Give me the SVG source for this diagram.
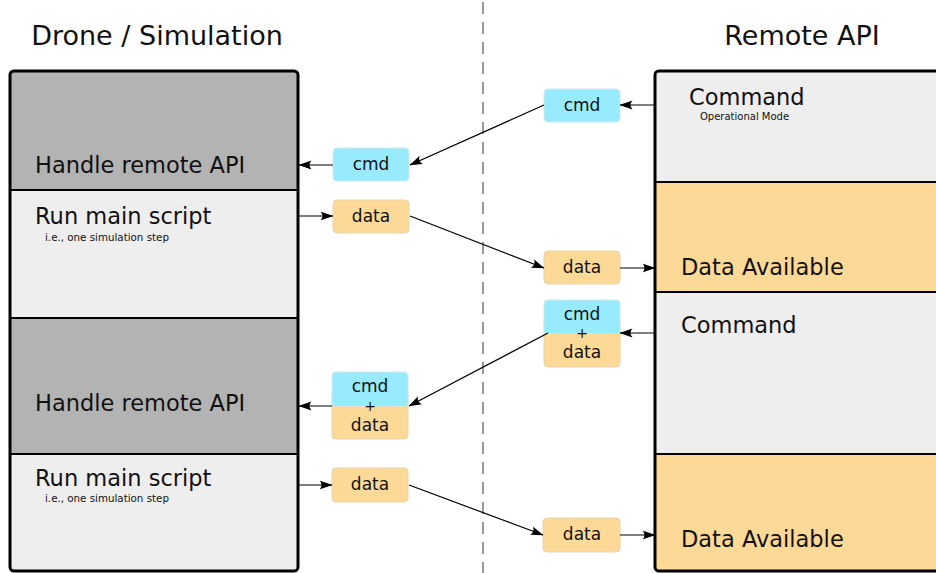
<svg xmlns="http://www.w3.org/2000/svg" width="936" height="573" viewBox="0 0 936 573">
  <defs>
    <marker id="arrow" viewBox="0 0 13 10" refX="12.5" refY="5" markerWidth="13" markerHeight="10" markerUnits="userSpaceOnUse" orient="auto">
      <path d="M0,0.5 L13,5 L0,9.5 Q4,5 0,0.5 Z" fill="#000"/>
    </marker>
  </defs>
  <style>
    text { font-family: "DejaVu Sans", "Liberation Sans", sans-serif; fill: #111; }
    .title { font-size: 27px; }
    .label { font-size: 22.5px; }
    .note { font-size: 10.3px; }
    .tag { font-size: 17px; text-anchor: middle; }
    .plus { font-size: 14px; text-anchor: middle; }
    .dark { fill: #b3b3b3; }
    .light { fill: #eeeeee; }
    .avail { fill: #fdd997; }
    .divider { stroke: #000; stroke-width: 2; }
    .frame { fill: none; stroke: #000; stroke-width: 3; }
    .cmd { fill: #98eafd; stroke: #d0e8ee; stroke-width: 1; }
    .data { fill: #fdd997; stroke: #e8d3ae; stroke-width: 1; }
    .link { stroke: #000; stroke-width: 1.2; fill: none; marker-end: url(#arrow); }
    .sep { stroke: #999; stroke-width: 2; stroke-dasharray: 12 8; }
  </style>

  <rect width="936" height="573" fill="#fff"/>

  <!-- separator between the two sides -->
  <line class="sep" x1="483" y1="2" x2="483" y2="573"/>

  <text class="title" x="157" y="45" text-anchor="middle">Drone / Simulation</text>
  <text class="title" x="802" y="45" text-anchor="middle">Remote API</text>

  <!-- drone / simulation column -->
  <g id="simulation">
    <rect class="dark" x="10" y="71" width="288" height="119"/>
    <rect class="light" x="10" y="190" width="288" height="128"/>
    <rect class="dark" x="10" y="318" width="288" height="136"/>
    <rect class="light" x="10" y="454" width="288" height="117"/>
    <line class="divider" x1="10" y1="190" x2="298" y2="190"/>
    <line class="divider" x1="10" y1="318" x2="298" y2="318"/>
    <line class="divider" x1="10" y1="454" x2="298" y2="454"/>
    <rect class="frame" x="10" y="71" width="288" height="500" rx="4"/>
    <text class="label" x="35" y="173">Handle remote API</text>
    <text class="label" x="35" y="224">Run main script</text>
    <text class="note" x="45" y="241">i.e., one simulation step</text>
    <text class="label" x="35" y="411">Handle remote API</text>
    <text class="label" x="35" y="486">Run main script</text>
    <text class="note" x="45" y="502">i.e., one simulation step</text>
  </g>

  <!-- remote API column -->
  <g id="remote-api">
    <rect class="light" x="655" y="71" width="290" height="111"/>
    <rect class="avail" x="655" y="182" width="290" height="110"/>
    <rect class="light" x="655" y="292" width="290" height="162"/>
    <rect class="avail" x="655" y="454" width="290" height="117"/>
    <line class="divider" x1="655" y1="182" x2="945" y2="182"/>
    <line class="divider" x1="655" y1="292" x2="945" y2="292"/>
    <line class="divider" x1="655" y1="454" x2="945" y2="454"/>
    <rect class="frame" x="655" y="71" width="290" height="500" rx="4"/>
    <text class="label" x="689" y="105">Command</text>
    <text class="note" x="700" y="120" style="font-size:10px">Operational Mode</text>
    <text class="label" x="681" y="275">Data Available</text>
    <text class="label" x="681" y="333">Command</text>
    <text class="label" x="681" y="547">Data Available</text>
  </g>

  <!-- message tags -->
  <g id="cmd-remote">
    <rect class="cmd" x="544" y="89" width="76" height="33" rx="4"/>
    <text class="tag" x="582" y="111">cmd</text>
  </g>
  <g id="cmd-sim">
    <rect class="cmd" x="333" y="148" width="76" height="33" rx="4"/>
    <text class="tag" x="371" y="170">cmd</text>
  </g>
  <g id="data-sim-1">
    <rect class="data" x="333" y="200" width="76" height="33" rx="4"/>
    <text class="tag" x="371" y="222">data</text>
  </g>
  <g id="data-remote-1">
    <rect class="data" x="544" y="251" width="76" height="33" rx="4"/>
    <text class="tag" x="582" y="273">data</text>
  </g>
  <g id="cmd-data-remote">
    <rect class="data" x="544" y="318" width="76" height="49" rx="4"/>
    <rect class="cmd" x="544" y="300" width="76" height="33" rx="4"/>
    <rect x="544.5" y="326" width="75" height="7" fill="#98eafd"/>
    <text class="tag" x="582" y="320">cmd</text>
    <text class="plus" x="582" y="338">+</text>
    <text class="tag" x="582" y="358">data</text>
  </g>
  <g id="cmd-data-sim">
    <rect class="data" x="332" y="390" width="76" height="49" rx="4"/>
    <rect class="cmd" x="332" y="372" width="76" height="34" rx="4"/>
    <rect x="332.5" y="399" width="75" height="7" fill="#98eafd"/>
    <text class="tag" x="370" y="392">cmd</text>
    <text class="plus" x="370" y="411">+</text>
    <text class="tag" x="370" y="431">data</text>
  </g>
  <g id="data-sim-2">
    <rect class="data" x="332" y="468" width="76" height="34" rx="4"/>
    <text class="tag" x="370" y="490">data</text>
  </g>
  <g id="data-remote-2">
    <rect class="data" x="543" y="518" width="77" height="34" rx="4"/>
    <text class="tag" x="582" y="540">data</text>
  </g>

  <!-- connectors -->
  <g id="connectors">
    <line class="link" x1="655" y1="105" x2="620" y2="105"/>
    <line class="link" x1="544" y1="105" x2="410" y2="165"/>
    <line class="link" x1="333" y1="165" x2="299" y2="165"/>
    <line class="link" x1="299" y1="216" x2="333" y2="216"/>
    <line class="link" x1="410" y1="216" x2="544" y2="268"/>
    <line class="link" x1="620" y1="268" x2="655" y2="268"/>
    <line class="link" x1="655" y1="333" x2="620" y2="333"/>
    <line class="link" x1="548" y1="333" x2="409" y2="406"/>
    <line class="link" x1="332" y1="406" x2="299" y2="406"/>
    <line class="link" x1="299" y1="485" x2="332" y2="485"/>
    <line class="link" x1="409" y1="485" x2="543" y2="535"/>
    <line class="link" x1="620" y1="535" x2="655" y2="535"/>
  </g>
</svg>
